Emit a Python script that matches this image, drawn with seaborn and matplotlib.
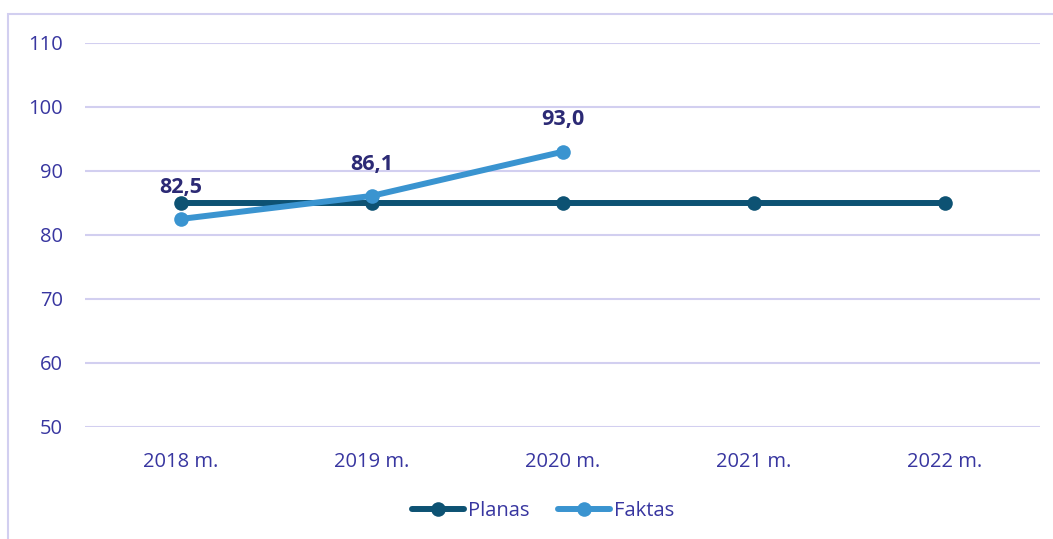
import matplotlib
matplotlib.use("Agg")
import matplotlib.pyplot as plt
import seaborn as sns
import pandas as pd
from matplotlib.patches import Rectangle
from matplotlib.lines import Line2D

years = ["2018 m.", "2019 m.", "2020 m.", "2021 m.", "2022 m."]
planas = [85, 85, 85, 85, 85]
faktas_years = ["2018 m.", "2019 m.", "2020 m."]
faktas = [82.5, 86.1, 93.0]
yticks = [50, 60, 70, 80, 90, 100, 110]

sns.set_theme(style="white")
plt.rcParams['font.family'] = ['Open Sans', 'DejaVu Sans']

c_plan = "#0D5273"
c_fakt = "#3A94D0"
c_text = "#3836A0"
c_lab = "#2C2A75"
c_grid = "#D2CFF0"

fig = plt.figure(figsize=(10.53, 5.39), dpi=100)
W, H = 1053, 539
ax = fig.add_axes([85 / W, 1 - 427 / H, (1040 - 85) / W, (427 - 43) / H])

df = pd.concat([
    pd.DataFrame({"year": years, "value": planas, "series": "Planas"}),
    pd.DataFrame({"year": faktas_years, "value": faktas, "series": "Faktas"}),
])
df["x"] = df["year"].map({y: i for i, y in enumerate(years)})

sns.lineplot(data=df, x="x", y="value", hue="series",
             palette={"Planas": c_plan, "Faktas": c_fakt},
             marker="o", markersize=10.5, markeredgewidth=0, linewidth=4.3,
             ax=ax, legend=False)

for xi, v in zip(range(len(faktas)), faktas):
    ax.annotate(f"{v:.1f}".replace(".", ","), (xi, v), xytext=(0, 23),
                textcoords="offset points", ha="center", va="center",
                fontsize=15.5, fontweight="bold", color=c_lab)

ax.set_xlim(-0.5, len(years) - 0.5)
ax.set_ylim(50, 110)
ax.set_yticks(yticks)
ax.set_xticks(range(len(years)))
ax.set_xticklabels(years)
ax.yaxis.grid(True, color=c_grid, linewidth=1.5)
ax.xaxis.grid(False)
for s in ax.spines.values():
    s.set_visible(False)
ax.tick_params(axis="both", length=0, labelsize=14.5, labelcolor=c_text)
ax.tick_params(axis="y", pad=16)
ax.tick_params(axis="x", pad=18)
ax.set_xlabel("")
ax.set_ylabel("")

handles = [Line2D([], [], color=c_plan, lw=4.3, marker="o", markersize=10.5, markeredgewidth=0),
           Line2D([], [], color=c_fakt, lw=4.3, marker="o", markersize=10.5, markeredgewidth=0)]
fig.legend(handles, ["Planas", "Faktas"], loc="center", bbox_to_anchor=(543 / W, 1 - 511 / H),
           ncol=2, frameon=False, fontsize=14.5, labelcolor=c_text, handlelength=2.6,
           handletextpad=0.2, columnspacing=1.4)

fig.patches.append(Rectangle((8 / W, -0.1), 1.2, 1 - 14 / H + 0.1, transform=fig.transFigure,
                             fill=False, edgecolor=c_grid, linewidth=1.5, zorder=0))

fig.savefig("out.png", dpi=100)
